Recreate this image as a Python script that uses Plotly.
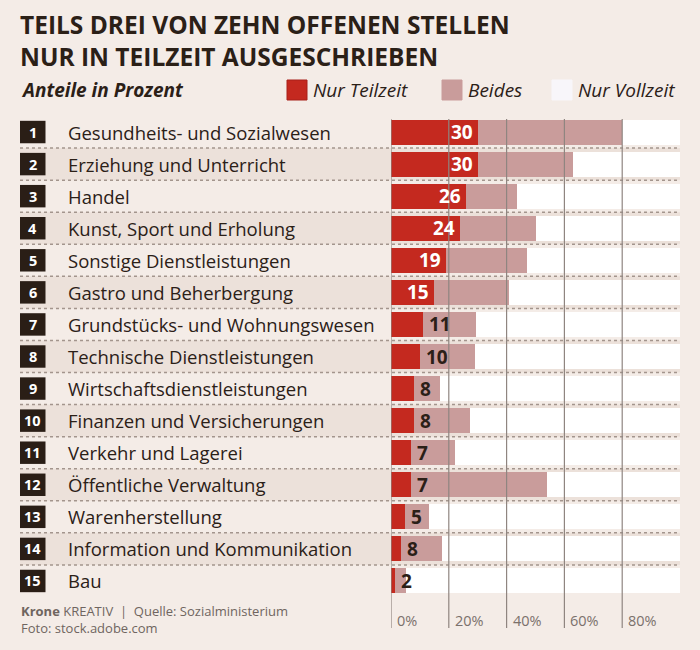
import plotly.graph_objects as go

# ---------------- data ----------------
categories = [
    "Gesundheits- und Sozialwesen", "Erziehung und Unterricht", "Handel",
    "Kunst, Sport und Erholung", "Sonstige Dienstleistungen", "Gastro und Beherbergung",
    "Grundstücks- und Wohnungswesen", "Technische Dienstleistungen",
    "Wirtschaftsdienstleistungen", "Finanzen und Versicherungen", "Verkehr und Lagerei",
    "Öffentliche Verwaltung", "Warenherstellung", "Information und Kommunikation", "Bau",
]
ranks = [str(i) for i in range(1, 16)]
teilzeit_label = [30, 30, 26, 24, 19, 15, 11, 10, 8, 8, 7, 7, 5, 8, 2]
nur_teilzeit = [30, 30, 26, 24, 19, 15, 11, 10, 8, 8, 7, 7, 5, 3.5, 1.3]
beides = [50, 33, 17.5, 26, 28, 26, 18.5, 19, 9, 19.5, 15, 47, 8, 14, 3.8]
nur_vollzeit = [100 - a - b for a, b in zip(nur_teilzeit, beides)]
x_ticks = [0, 20, 40, 60, 80]
x_tick_text = ["0%", "20%", "40%", "60%", "80%"]

# ---------------- style ----------------
BG = "#f4ece7"
BAND = "#ece1da"
RED = "#c4291f"
PINK = "#c99c9b"
WHITE = "#ffffff"
DARK = "#2b2017"
GRID = "#8f8580"
FONT = "Open Sans"

W, H = 700, 650
ML, MR, MT, MB = 391, 20, 116, 53
PW = W - ML - MR
PH = H - MT - MB


def px2x(px):
    return (px - ML) / PW


def py2y(py):
    return (H - MB - py) / PH


fig = go.Figure()
fig.add_trace(go.Bar(y=categories, x=nur_teilzeit, orientation="h", marker=dict(color=RED, line_width=0),
                     name="Nur Teilzeit", width=0.78, hoverinfo="x+y"))
fig.add_trace(go.Bar(y=categories, x=beides, orientation="h", marker=dict(color=PINK, line_width=0),
                     name="Beides", width=0.78, hoverinfo="x+y"))
fig.add_trace(go.Bar(y=categories, x=nur_vollzeit, orientation="h", marker=dict(color=WHITE, line_width=0),
                     name="Nur Vollzeit", width=0.78, hoverinfo="x+y"))

shapes = []
annotations = []

n = len(categories)
# row bands (even rows)
for i in range(n):
    if i % 2 == 1:
        shapes.append(dict(type="rect", xref="paper", yref="y", x0=px2x(20), x1=1,
                           y0=i - 0.5, y1=i + 0.5, fillcolor=BAND, line_width=0, layer="below"))
# dotted separators
for i in range(n - 1):
    shapes.append(dict(type="line", xref="paper", yref="y", x0=px2x(20), x1=1,
                       y0=i + 0.5, y1=i + 0.5, line=dict(color="#a3958d", width=1.5, dash="dot"),
                       layer="above"))
# vertical gridlines over bars
for t, lab in zip(x_ticks, x_tick_text):
    shapes.append(dict(type="line", xref="x", yref="paper", x0=t, x1=t,
                       y0=py2y(628), y1=py2y(119), line=dict(color=GRID, width=1.2), layer="above"))
    annotations.append(dict(x=t, xref="x", y=py2y(620), yref="paper", text=lab, showarrow=False,
                            xanchor="left", yanchor="middle", xshift=4,
                            font=dict(family=FONT, size=14.5, color="#7b716c")))

# rank boxes and labels
for i, (r, c) in enumerate(zip(ranks, categories)):
    shapes.append(dict(type="rect", xref="paper", yref="y", x0=px2x(20), x1=px2x(45.5),
                       y0=i - 0.35, y1=i + 0.35, fillcolor="#2a1e16", line_width=0, layer="above"))
    annotations.append(dict(x=px2x(32.8), xref="paper", y=c, yref="y", text="<b>%s</b>" % r,
                            showarrow=False, xanchor="center", yanchor="middle",
                            font=dict(family=FONT, size=14.5, color="white")))
    annotations.append(dict(x=px2x(66), xref="paper", y=c, yref="y", text=c, showarrow=False,
                            xanchor="left", yanchor="middle",
                            font=dict(family=FONT, size=18.5, color=DARK)))

# value labels
for c, v, lab in zip(categories, nur_teilzeit, teilzeit_label):
    if lab >= 15:
        annotations.append(dict(x=v, xref="x", y=c, yref="y", text="<b>%d</b>" % lab, showarrow=False,
                                xanchor="right", yanchor="middle", xshift=-3,
                                font=dict(family=FONT, size=19, color="white")))
    else:
        annotations.append(dict(x=v, xref="x", y=c, yref="y", text="<b>%d</b>" % lab, showarrow=False,
                                xanchor="left", yanchor="middle", xshift=4,
                                font=dict(family=FONT, size=19, color=DARK)))

# title (two lines in one text block)
annotations.append(dict(x=px2x(18), xref="paper", y=py2y(41), yref="paper",
                        text="<b>TEILS DREI VON ZEHN OFFENEN STELLEN<br>NUR IN TEILZEIT AUSGESCHRIEBEN</b>",
                        showarrow=False, xanchor="left", yanchor="middle", align="left",
                        font=dict(family=FONT, size=24.5, color=DARK)))
annotations.append(dict(x=px2x(19), xref="paper", y=py2y(90), yref="paper",
                        text="<b><i>Anteile in Prozent</i></b>", showarrow=False,
                        xanchor="left", yanchor="middle",
                        font=dict(family=FONT, size=19, color=DARK)))

# legend
legend_items = [("Nur Teilzeit", RED, 287), ("Beides", PINK, 442), ("Nur Vollzeit", "#f8f6fa", 552)]
for name, col, x0 in legend_items:
    shapes.append(dict(type="rect", xref="paper", yref="paper", x0=px2x(x0), x1=px2x(x0 + 20),
                       y0=py2y(100), y1=py2y(80), fillcolor=col,
                       line=dict(color="#a8201a" if col == RED else col, width=1)))
    annotations.append(dict(x=px2x(x0 + 24), xref="paper", y=py2y(90), yref="paper",
                            text="<i>%s</i>" % name, showarrow=False, xanchor="left", yanchor="middle",
                            font=dict(family=FONT, size=19, color=DARK)))

# footer
annotations.append(dict(x=px2x(19), xref="paper", y=py2y(611), yref="paper",
                        text="<b>Krone</b> KREATIV  |  Quelle: Sozialministerium", showarrow=False,
                        xanchor="left", yanchor="middle",
                        font=dict(family=FONT, size=13, color="#6f6560")))
annotations.append(dict(x=px2x(19), xref="paper", y=py2y(628), yref="paper",
                        text="Foto: stock.adobe.com", showarrow=False,
                        xanchor="left", yanchor="middle",
                        font=dict(family=FONT, size=13, color="#6f6560")))

fig.update_layout(
    barmode="stack",
    width=W, height=H,
    margin=dict(l=ML, r=MR, t=MT, b=MB, pad=0),
    paper_bgcolor=BG, plot_bgcolor="rgba(0,0,0,0)",
    showlegend=False,
    xaxis=dict(range=[0, 100], showgrid=False, zeroline=False, showticklabels=False, fixedrange=True),
    yaxis=dict(categoryorder="array", categoryarray=categories, autorange="reversed",
               showgrid=False, zeroline=False, showticklabels=False, fixedrange=True),
    shapes=shapes,
    annotations=annotations,
)

fig.write_html("out.html")
